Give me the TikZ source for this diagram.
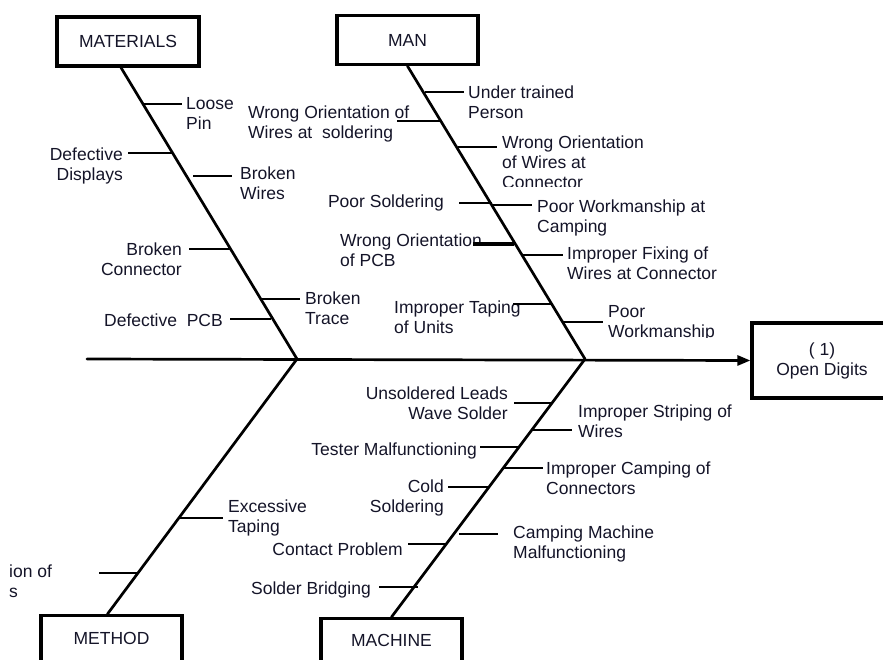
\documentclass[tikz,border=0pt]{standalone}
\usepackage{fontspec}
\setmainfont{Liberation Sans}
\usetikzlibrary{arrows.meta}
\definecolor{ink}{RGB}{20,20,40}
\newcommand\lblfont{\fontsize{17.5}{20}\selectfont}

\begin{document}
\begin{tikzpicture}[x=1pt,y=-1pt,
  bone/.style={line width=2.7pt, line cap=round},
  twig/.style={line width=2.3pt},
  heavy twig/.style={line width=4pt},
  catbox/.style={draw, line width=3.2pt, inner sep=0pt, font=\lblfont, text=ink},
  lbl/.style={font=\lblfont, text=ink, inner sep=0pt,
    execute at begin node=\strut, execute at end node=\strut},
  lft/.style={lbl, align=left, anchor=north west},
  rgt/.style={lbl, align=right, anchor=north east}]

\useasboundingbox (0,0) rectangle (883,660);
\clip (0,0) rectangle (883,660);

% category boxes and effect box
\node[catbox, minimum width=142pt, minimum height=49pt] (mat) at (128,41.5) {MATERIALS};
\node[catbox, minimum width=141pt, minimum height=49pt] (man) at (407.5,40) {MAN};
\node[catbox, minimum width=141pt, text height=29pt, text depth=40pt, anchor=north] (met) at (111.5,614) {METHOD};
\node[catbox, minimum width=141pt, text height=28pt, text depth=40pt, anchor=north] (mac) at (391.5,617) {MACHINE};
\node[catbox, minimum width=140pt, minimum height=75pt, align=center] (eff) at (822,360.5) {( 1)\\Open Digits};

% spine and joints
\coordinate (tail) at (87,359);
\coordinate (jA) at (297,359);
\coordinate (jB) at (585,359);
\draw[bone, -{Triangle[length=13pt,width=10pt]}] (tail) -- (eff.west);

% main bones
\draw[bone] ([xshift=-7pt]mat.south) -- (jA);
\draw[bone] (man.south) -- (jB);
\draw[bone] (jA) -- ([xshift=-4pt]met.north);
\draw[bone] (jB) -- (mac.north);

% MATERIALS causes
\node[lft] (m1) at (186,97) {Loose\\Pin};
\node[rgt] (m2) at (123,148) {Defective\\Displays};
\node[lft] (m3) at (240,167) {Broken\\Wires};
\node[rgt] (m4) at (182,243) {Broken\\Connector};
\node[lft] (m5) at (305,292) {Broken\\Trace};
\node[rgt] (m6) at (223,312) {Defective\ \ PCB};
\draw[twig] (143,104) -- (182,104);
\draw[twig] (128,153) -- (172,153);
\draw[twig] (193,176) -- (232,176);
\draw[twig] (189,249) -- (231,249);
\draw[twig] (262,299) -- (300,299);
\draw[twig] (230,319) -- (271,319);

% MAN causes
\node[lft] (n1) at (468,86) {Under trained\\Person};
\node[lft] (n2) at (248,106) {Wrong Orientation of\\Wires at\ \ soldering};
\begin{scope}
  \clip (490,120) rectangle (720,187);
  \node[lft] (n3) at (502,136) {Wrong Orientation\\of Wires at\\Connector};
\end{scope}
\node[rgt] (n4) at (444,193) {Poor Soldering};
\node[lft] (n5) at (537,200) {Poor Workmanship at\\Camping};
\node[lft] (n6) at (340,234) {Wrong Orientation\\of PCB};
\node[lft] (n7) at (567,247) {Improper Fixing of\\Wires at Connector};
\node[lft] (n8) at (394,301) {Improper Taping\\of Units};
\begin{scope}
  \clip (600,290) rectangle (740,337);
  \node[lft] (n9) at (608,305) {Poor\\Workmanship};
\end{scope}
\draw[twig] (425,92) -- (464,92);
\draw[twig] (397,121) -- (441,121);
\draw[twig] (458,147) -- (497,147);
\draw[twig] (459,203) -- (492,203);
\draw[twig] (492,205) -- (532,205);
\draw[heavy twig] (473,244) -- (514,244);
\draw[twig] (523,255) -- (563,255);
\draw[twig] (513,304) -- (552,304);
\draw[twig] (563,322) -- (603,322);

% METHOD causes
\node[lft] (t1) at (228,500) {Excessive\\Taping};
\node[lft] (t2) at (9,565) {ion of\\s};
\draw[twig] (178,518) -- (223,518);
\draw[twig] (99,573) -- (137,573);

% MACHINE causes
\node[rgt] (c1) at (508,387) {Unsoldered Leads\\Wave Solder};
\node[lft] (c2) at (578,405) {Improper Striping of\\Wires};
\node[rgt] (c3) at (477,441) {Tester Malfunctioning};
\node[lft] (c4) at (546,462) {Improper Camping of\\Connectors};
\node[rgt] (c5) at (444,480) {Cold\\Soldering};
\node[lft] (c6) at (513,526) {Camping Machine\\Malfunctioning};
\node[rgt] (c7) at (403,541) {Contact Problem};
\node[rgt] (c8) at (371,580) {Solder Bridging};
\draw[twig] (514,403) -- (552,403);
\draw[twig] (531,430) -- (572,430);
\draw[twig] (480,447) -- (519,447);
\draw[twig] (502,468) -- (543,468);
\draw[twig] (448,487) -- (488,487);
\draw[twig] (459,534) -- (498,534);
\draw[twig] (408,544) -- (445,544);
\draw[twig] (379,587) -- (418,587);

\end{tikzpicture}
\end{document}
